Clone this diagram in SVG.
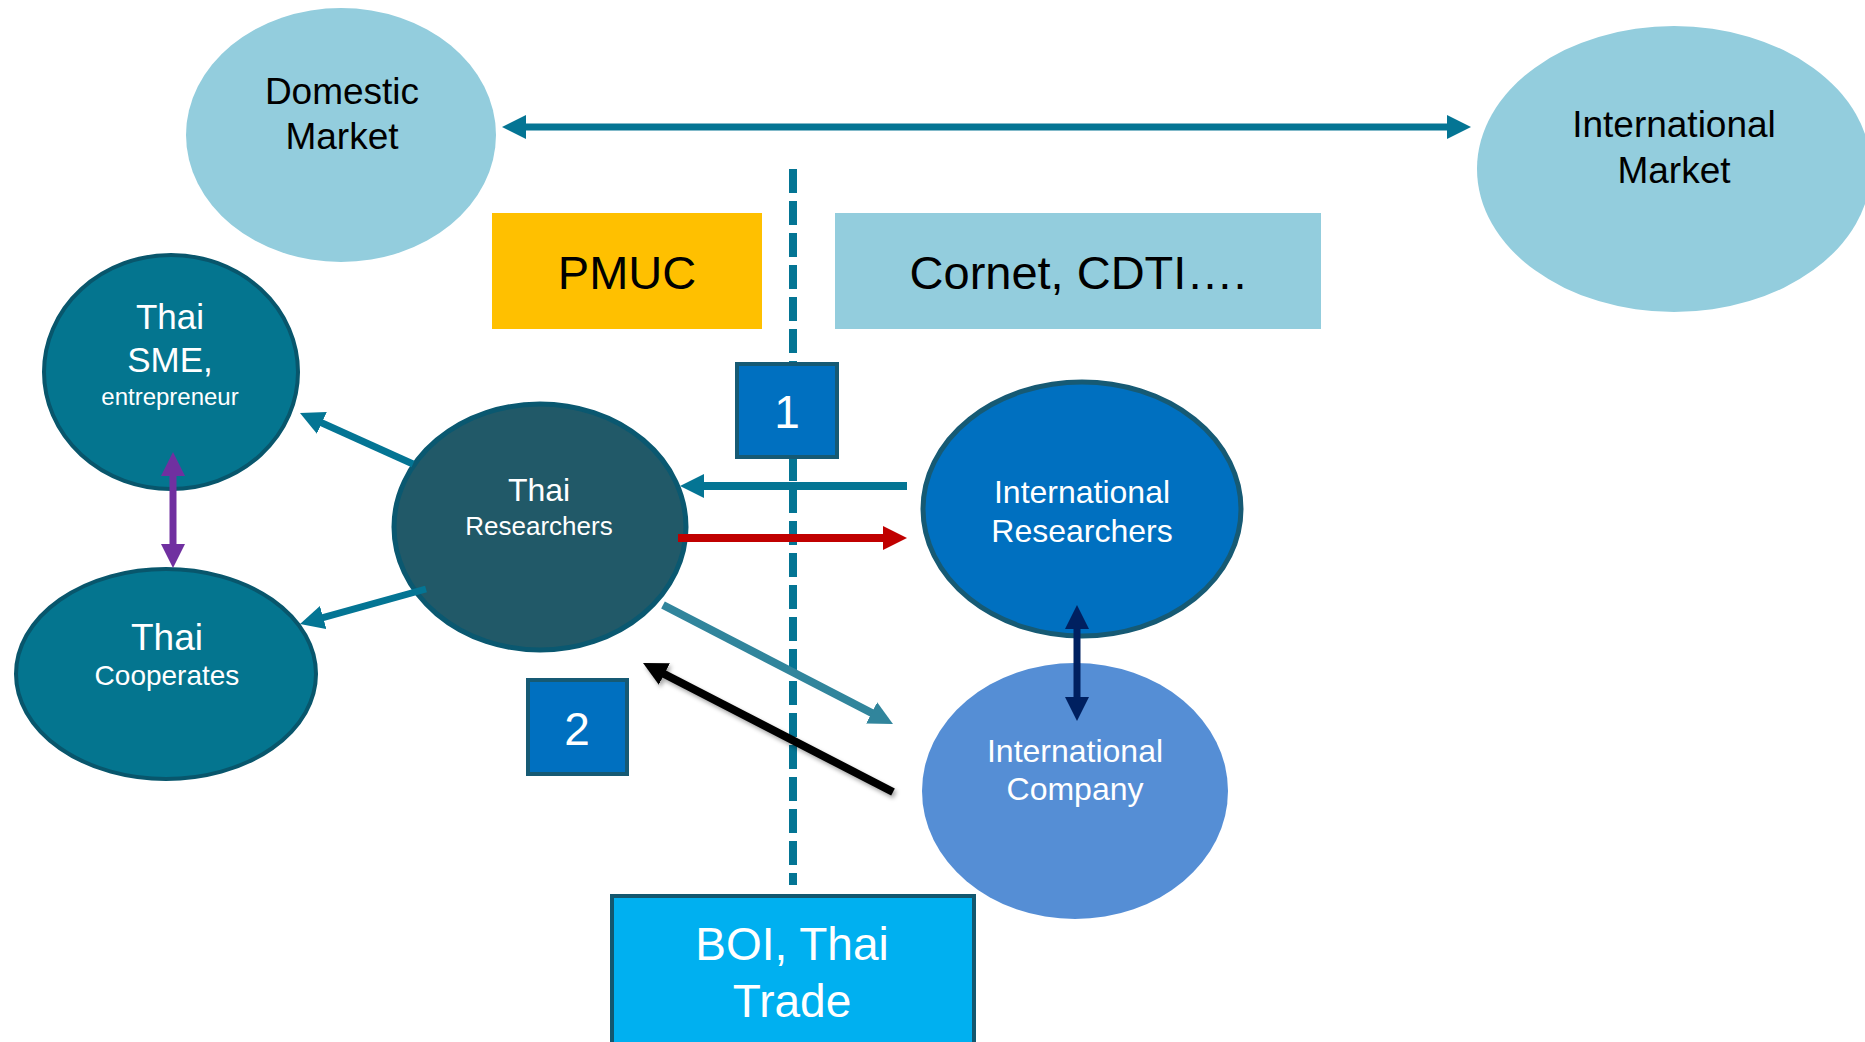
<svg xmlns="http://www.w3.org/2000/svg" width="1865" height="1042" viewBox="0 0 1865 1042">
<style>
text{font-family:"Liberation Sans",Arial,sans-serif;text-anchor:middle}
.w{fill:#fff}
.k{fill:#000}
.conn{fill:none;stroke-linecap:butt}
</style>
<defs>
<marker id="hTeal" markerUnits="userSpaceOnUse" viewBox="0 0 24 24" markerWidth="24" markerHeight="24" refX="4" refY="12" orient="auto-start-reverse"><path d="M0,0 L24,12 L0,24 z" fill="#047594"/></marker>
<marker id="hRed" markerUnits="userSpaceOnUse" viewBox="0 0 24 24" markerWidth="24" markerHeight="24" refX="4" refY="12" orient="auto"><path d="M0,0 L24,12 L0,24 z" fill="#C00000"/></marker>
<marker id="hLt" markerUnits="userSpaceOnUse" viewBox="0 0 24 24" markerWidth="24" markerHeight="24" refX="4" refY="12" orient="auto"><path d="M0,0 L24,12 L0,24 z" fill="#31859C"/></marker>
<marker id="hBlk" markerUnits="userSpaceOnUse" viewBox="0 0 24 24" markerWidth="24" markerHeight="24" refX="4" refY="12" orient="auto"><path d="M0,0 L24,12 L0,24 z" fill="#000"/></marker>
<marker id="hPur" markerUnits="userSpaceOnUse" viewBox="0 0 24 24" markerWidth="24" markerHeight="24" refX="4" refY="12" orient="auto-start-reverse"><path d="M0,0 L24,12 L0,24 z" fill="#7030A0"/></marker>
<marker id="hNav" markerUnits="userSpaceOnUse" viewBox="0 0 24 24" markerWidth="24" markerHeight="24" refX="4" refY="12" orient="auto-start-reverse"><path d="M0,0 L24,12 L0,24 z" fill="#002060"/></marker>
<filter id="sh" x="-10%" y="-10%" width="120%" height="130%"><feDropShadow dx="2" dy="3" stdDeviation="2" flood-color="#000" flood-opacity="0.35"/></filter>
</defs>
<rect width="1865" height="1042" fill="#fff"/>

<g id="divider">
<line x1="793" y1="169" x2="793" y2="885" stroke="#047594" stroke-width="8" stroke-dasharray="24 8"/>
</g>

<g id="domestic-market">
<ellipse cx="341" cy="135" rx="155" ry="127" fill="#93CDDD"/>
<text x="342" y="104" font-size="37" class="k">Domestic</text>
<text x="342" y="149" font-size="37" class="k">Market</text>
</g>

<g id="international-market">
<ellipse cx="1674" cy="169" rx="197" ry="143" fill="#93CDDD"/>
<text x="1674" y="137" font-size="37" class="k">International</text>
<text x="1674" y="183" font-size="37" class="k">Market</text>
</g>

<g id="pmuc">
<rect x="492" y="213" width="270" height="116" fill="#FFC000"/>
<text x="627" y="289" font-size="47" class="k">PMUC</text>
</g>

<g id="cornet">
<rect x="835" y="213" width="486" height="116" fill="#93CDDD"/>
<text x="1078" y="289" font-size="47" class="k">Cornet, CDTI….</text>
</g>

<g id="thai-sme">
<ellipse cx="171" cy="372" rx="127" ry="117" fill="#04758F" stroke="#08566C" stroke-width="4"/>
<text x="170" y="329" font-size="35" class="w">Thai</text>
<text x="170" y="372" font-size="35" class="w">SME,</text>
<text x="170" y="405" font-size="24" class="w">entrepreneur</text>
</g>

<g id="thai-cooperates">
<ellipse cx="166" cy="674" rx="150" ry="105" fill="#04758F" stroke="#08566C" stroke-width="4"/>
<text x="167" y="650" font-size="37" class="w">Thai</text>
<text x="167" y="685" font-size="28" class="w">Cooperates</text>
</g>

<g id="thai-researchers">
<ellipse cx="540" cy="527" rx="146" ry="123" fill="#215968" stroke="#0A5870" stroke-width="5"/>
<text x="539" y="501" font-size="32" class="w">Thai</text>
<text x="539" y="535" font-size="26" class="w">Researchers</text>
</g>

<g id="international-researchers">
<ellipse cx="1082" cy="509" rx="159" ry="127" fill="#0070C0" stroke="#165A74" stroke-width="5"/>
<text x="1082" y="503" font-size="32" class="w">International</text>
<text x="1082" y="542" font-size="32" class="w">Researchers</text>
</g>

<g id="international-company">
<ellipse cx="1075" cy="791" rx="153" ry="128" fill="#558ED5"/>
<text x="1075" y="762" font-size="32" class="w">International</text>
<text x="1075" y="800" font-size="32" class="w">Company</text>
</g>

<g id="box-1">
<rect x="737" y="364" width="100" height="93" fill="#0070C0" stroke="#165A74" stroke-width="4"/>
<text x="787" y="428" font-size="46" class="w">1</text>
</g>

<g id="box-2">
<rect x="528" y="680" width="99" height="94" fill="#0070C0" stroke="#165A74" stroke-width="4"/>
<text x="577" y="745" font-size="46" class="w">2</text>
</g>

<g id="boi-thai-trade">
<rect x="612" y="896" width="362" height="160" fill="#00B0F0" stroke="#13576F" stroke-width="4"/>
<text x="792" y="960" font-size="46" class="w">BOI, Thai</text>
<text x="792" y="1017" font-size="46" class="w">Trade</text>
</g>

<g id="connectors" class="conn">
<line x1="522" y1="127" x2="1451" y2="127" stroke="#047594" stroke-width="7" marker-start="url(#hTeal)" marker-end="url(#hTeal)"/>
<line x1="413" y1="464" x2="318.2" y2="421.2" stroke="#047594" stroke-width="7" marker-end="url(#hTeal)"/>
<line x1="426" y1="589" x2="319.3" y2="618.6" stroke="#047594" stroke-width="7" marker-end="url(#hTeal)"/>
<line x1="173" y1="472" x2="173" y2="548" stroke="#7030A0" stroke-width="7" marker-start="url(#hPur)" marker-end="url(#hPur)"/>
<line x1="907" y1="486" x2="700" y2="486" stroke="#047594" stroke-width="8" marker-end="url(#hTeal)"/>
<line x1="678" y1="538" x2="887" y2="538" stroke="#C00000" stroke-width="8" marker-end="url(#hRed)"/>
<line x1="663" y1="605" x2="875.2" y2="714.8" stroke="#31859C" stroke-width="8" marker-end="url(#hLt)"/>
<line x1="893" y1="792" x2="660.8" y2="672.2" stroke="#000" stroke-width="8" marker-end="url(#hBlk)" filter="url(#sh)"/>
<line x1="1077" y1="625" x2="1077" y2="701" stroke="#002060" stroke-width="7" marker-start="url(#hNav)" marker-end="url(#hNav)"/>
</g>
</svg>
